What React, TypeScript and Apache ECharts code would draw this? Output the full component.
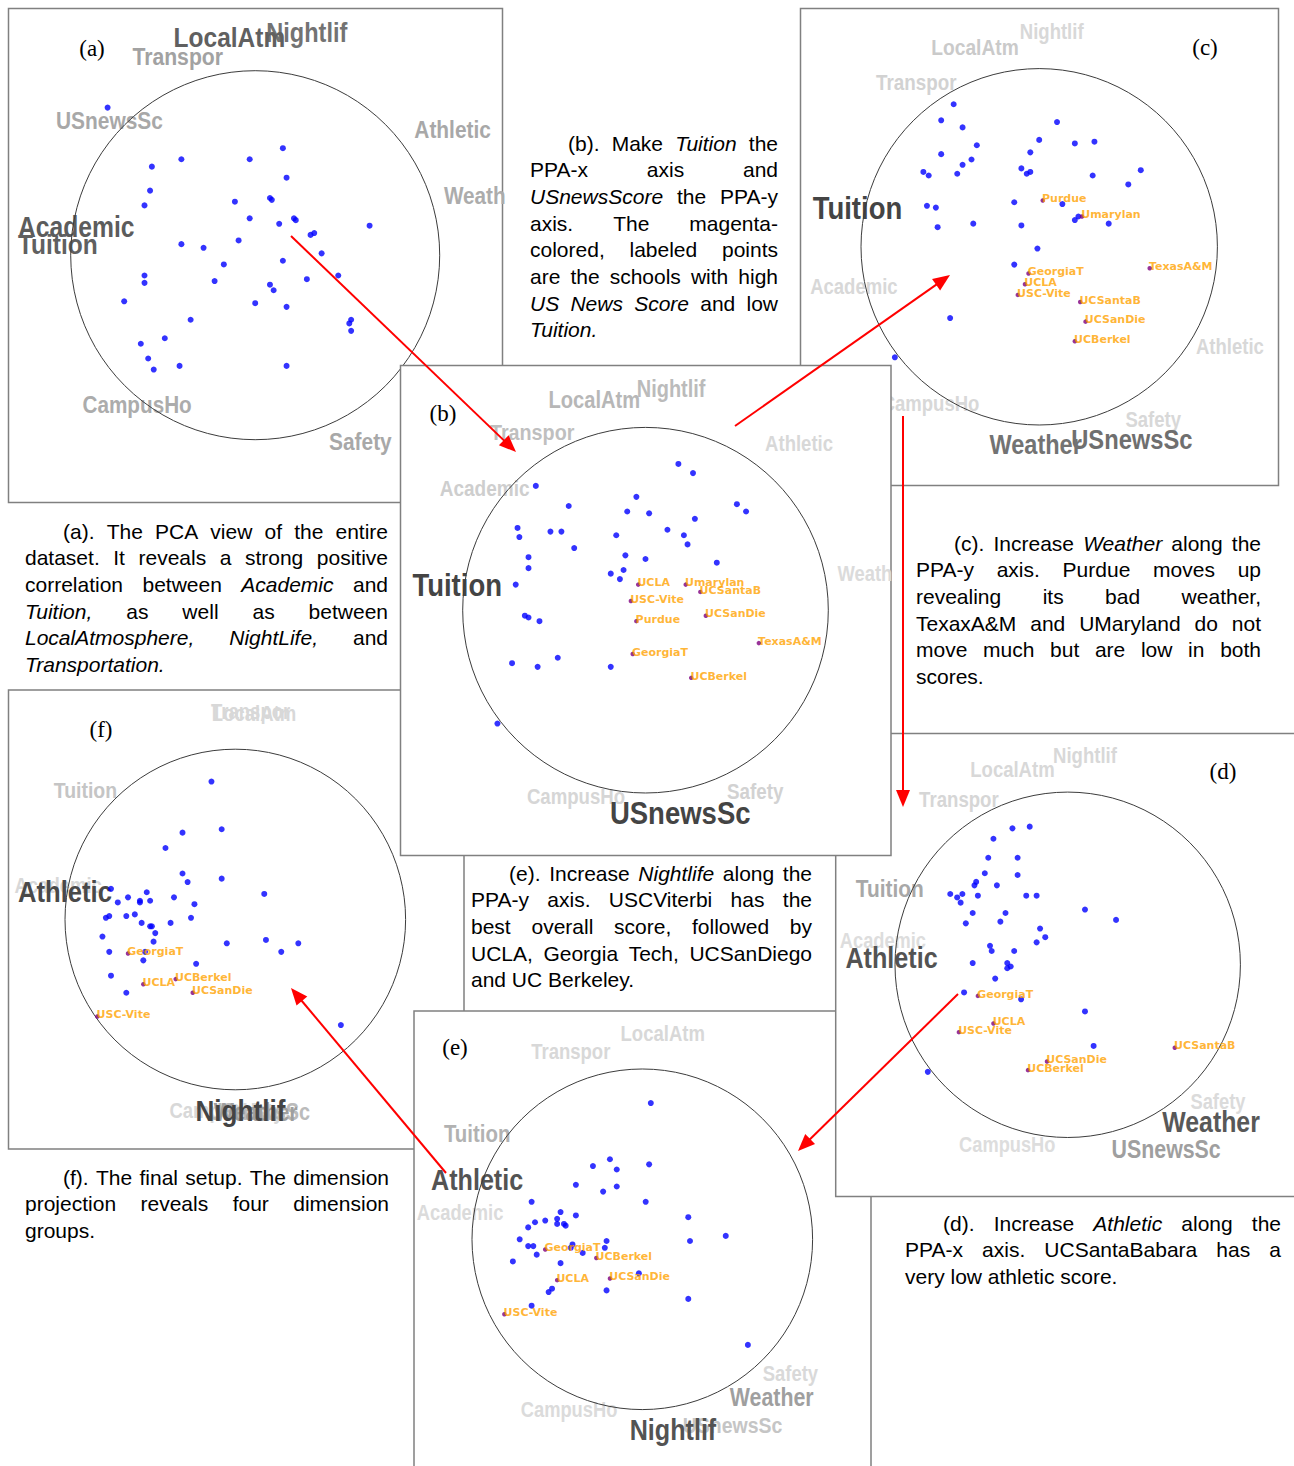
import { useEffect, useRef } from "react";
import * as echarts from "echarts";

// ---------- projection data, in units of the unit circle (radius = 100) ----------

// (a) PCA view of the whole data set
const aDots = [
  [-80, 80], [-40, 52], [-56, 48], [-57, 35], [-60, 27], [-3, 52], [15, 58], [17, 42], [-11, 29], [8, 31],
  [9, 30], [-3, 20], [13, 17], [21, 20], [22, 19], [30, 11], [32, 12], [62, 16], [-40, 6], [-28, 4],
  [-9, 8], [-17, -5], [15, -3], [36, 1], [45, -11], [28, -13], [-60, -11], [-60, -15], [-22, -14], [8, -16],
  [10, -19], [-71, -25], [0, -26], [17, -28], [-35, -35], [52, -35], [51, -37], [52, -41], [-49, -45], [-62, -48],
  [-58, -56], [-55, -62], [-41, -60], [17, -60],
];
const aSchools: [string, number, number][] = [];
// dimension name, x, y, contribution weight
const aDims: [string, number, number, number][] = [
  ["CampusHo", -64, -81, 0.28], ["Safety", 57, -101, 0.3], ["Transpor", -42, 108, 0.33],
  ["USnewsSc", -79, 73, 0.3], ["Athletic", 107, 68, 0.3], ["Weath", 119, 32, 0.28],
  ["Nightlif", 28, 121, 0.58], ["LocalAtm", -14, 118, 0.68],
  ["Academic", -97, 15, 0.7], ["Tuition", -107, 6, 0.68],
];

// (b) Tuition on PPA-x, USnewsScore on PPA-y
const bDots = [
  [18, 80], [26, 75], [-60, 68], [-5, 62], [-42, 57], [-10, 54], [2, 53], [50, 58], [55, 54], [27, 50],
  [-70, 45], [-69, 40], [-52, 43], [-46, 43], [-16, 41], [12, 44], [21, 41], [23, 36], [-39, 34], [-64, 29],
  [-64, 23], [-11, 30], [0, 28], [39, 26], [-19, 20], [-12, 22], [-14, 17], [-71, 14], [-66, -3], [-64, -4],
  [-58, -6], [-73, -29], [-59, -31], [-48, -26], [-19, -31], [-81, -62],
];
const bSchools: [string, number, number][] = [
  ["UCLA", -4, 14], ["Umarylan", 22, 14], ["UCSantaB", 30, 10], ["USC-Vite", -8, 5], ["Purdue", -5, -6],
  ["UCSanDie", 33, -3], ["TexasA&M", 62, -18], ["GeorgiaT", -7, -24], ["UCBerkel", 25, -37],
];
const bDims: [string, number, number, number][] = [
  ["LocalAtm", -28, 115, 0.22], ["Nightlif", 14, 121, 0.2], ["Transpor", -62, 97, 0.18],
  ["Athletic", 84, 91, 0.05], ["Academic", -88, 67, 0.1], ["Weath", 120, 20, 0.03],
  ["CampusHo", -38, -102, 0.06], ["Safety", 60, -99, 0.08],
  ["Tuition", -103, 14, 1], ["USnewsSc", 19, -111, 1],
];

// (c) Weather increased along PPA-y
const cDots = [
  [-48, 80], [-55, 71], [-43, 67], [10, 70], [-35, 57], [-55, 52], [0, 60], [20, 58], [31, 59], [-5, 53],
  [-38, 49], [-43, 46], [-46, 41], [-65, 42], [-62, 40], [-10, 44], [-7, 41], [-5, 42], [30, 40], [57, 43],
  [50, 35], [-14, 25], [13, 24], [-63, 23], [-58, 22], [-57, 11], [-37, 13], [-10, 12], [20, 15], [22, 17],
  [39, 13], [-1, -1], [-14, -10], [-50, -40], [-81, -62],
];
const cSchools: [string, number, number][] = [
  ["Purdue", 2, 26], ["Umarylan", 24, 17], ["GeorgiaT", -6, -15], ["UCLA", -8, -21], ["USC-Vite", -12, -27],
  ["TexasA&M", 62, -12], ["UCSantaB", 23, -31], ["UCSanDie", 26, -42], ["UCBerkel", 20, -53],
];
const cDims: [string, number, number, number][] = [
  ["Nightlif", 7, 121, 0.05], ["LocalAtm", -36, 112, 0.12], ["Transpor", -69, 92, 0.08],
  ["Academic", -104, -22, 0.05], ["Athletic", 107, -56, 0.05], ["CampusHo", -61, -88, 0.05],
  ["Safety", 64, -97, 0.05], ["USnewsSc", 52, -108, 0.6], ["Weather", -2, -111, 0.58],
  ["Tuition", -102, 22, 1],
];

// (d) Athletic increased along PPA-x
const dDots = [
  [-22, 80], [-32, 79], [-43, 73], [-46, 62], [-29, 62], [-48, 53], [-29, 52], [-53, 48], [-54, 46], [-41, 46],
  [-68, 41], [-61, 41], [-64, 39], [-62, 36], [-52, 40], [-24, 40], [-18, 40], [10, 32], [28, 26], [-55, 30],
  [-36, 30], [-59, 24], [-39, 25], [-16, 21], [-13, 16], [-18, 13], [-45, 11], [-44, 8], [-31, 8], [-55, 1],
  [-35, 1], [-33, -1], [-35, -2], [-42, -8], [-60, -16], [-27, -20], [10, -27], [15, -47], [-81, -62],
];
const dSchools: [string, number, number][] = [
  ["GeorgiaT", -52, -18], ["UCLA", -43, -34], ["USC-Vite", -63, -39], ["UCSanDie", -12, -56],
  ["UCBerkel", -23, -61], ["UCSantaB", 62, -48],
];
const dDims: [string, number, number, number][] = [
  ["Nightlif", 10, 121, 0.05], ["LocalAtm", -32, 113, 0.05], ["Transpor", -63, 96, 0.06],
  ["Tuition", -103, 44, 0.3], ["Academic", -107, 14, 0.02], ["Safety", 87, -79, 0.03],
  ["CampusHo", -35, -104, 0.02], ["USnewsSc", 57, -107, 0.35],
  ["Weather", 83, -91, 0.72], ["Athletic", -102, 4, 0.75],
];

// (e) Nightlife increased along PPA-y
const eDots = [
  [5, 80], [-19, 47], [-29, 43], [-15, 41], [4, 44], [-39, 32], [-23, 28], [-15, 31], [2, 22], [-65, 22],
  [-48, 16], [-39, 14], [-63, 10], [-57, 11], [-50, 12], [-50, 9], [-46, 9], [-45, 8], [-67, 7], [27, 13],
  [-72, 0], [-67, -4], [-64, -4], [-62, -9], [-41, -3], [-42, -5], [-21, -1], [-22, -5], [-35, -8], [28, -1],
  [49, 2], [-76, -13], [-48, -14], [-2, -20], [-53, -29], [-55, -31], [-21, -30], [27, -35], [-65, -39], [62, -62],
];
const eSchools: [string, number, number][] = [
  ["GeorgiaT", -57, -6], ["UCBerkel", -27, -11], ["UCLA", -50, -24], ["UCSanDie", -19, -23], ["USC-Vite", -81, -44],
];
const eDims: [string, number, number, number][] = [
  ["LocalAtm", 12, 121, 0.05], ["Transpor", -42, 110, 0.05], ["Tuition", -97, 62, 0.25],
  ["Academic", -107, 16, 0.03], ["Safety", 87, -79, 0.04], ["CampusHo", -43, -100, 0.03],
  ["USnewsSc", 53, -109, 0.15], ["Weather", 76, -93, 0.35],
  ["Athletic", -97, 35, 0.75], ["Nightlif", 18, -112, 0.75],
];

// (f) final setup
const fDots = [
  [-14, 81], [-8, 53], [-31, 51], [-41, 42], [-31, 27], [-28, 22], [-8, 24], [17, 15], [-73, 18], [-69, 10],
  [-63, 13], [-56, 11], [-56, 10], [-52, 16], [-50, 11], [-36, 13], [-24, 9], [-76, 1], [-74, 2], [-64, 2],
  [-59, 3], [-55, -2], [-50, -4], [-49, -4], [-47, -8], [-38, -2], [-26, 1], [-78, -10], [-48, -13], [-5, -14],
  [18, -12], [37, -14], [27, -19], [-74, -19], [-53, -19], [-54, -24], [-23, -26], [-73, -33], [-64, -43], [62, -62],
];
const fSchools: [string, number, number][] = [
  ["GeorgiaT", -63, -20], ["UCBerkel", -35, -35], ["UCLA", -54, -38], ["UCSanDie", -25, -43], ["USC-Vite", -81, -57],
];
const fDims: [string, number, number, number][] = [
  ["LocalAtm", 11, 121, 0.05], ["Transpor", 9, 122, 0.05], ["Tuition", -88, 76, 0.15],
  ["Academic", -104, 20, 0.05], ["CampusHo", -10, -112, 0.05], ["Safety", 12, -113, 0.05],
  ["USnewsSc", 14, -113, 0.2], ["Weather", 12, -113, 0.35],
  ["Athletic", -100, 16, 0.8], ["Nightlif", 3, -112, 0.85],
];

// ---------- captions ----------
const aCaption = [
  "(a). The PCA view of the entire",
  "dataset. It reveals a strong positive",
  "correlation between _Academic_ and",
  "_Tuition,_ as well as between",
  "_LocalAtmosphere,_ _NightLife,_ and",
  "_Transportation._",
];
const bCaption = [
  "(b). Make _Tuition_ the",
  "PPA-x axis and",
  "_USnewsScore_ the PPA-y",
  "axis. The magenta-",
  "colored, labeled points",
  "are the schools with high",
  "_US_ _News_ _Score_ and low",
  "_Tuition._",
];
const cCaption = [
  "(c). Increase _Weather_ along the",
  "PPA-y axis. Purdue moves up",
  "revealing its bad weather,",
  "TexaxA&M and UMaryland do not",
  "move much but are low in both",
  "scores.",
];
const dCaption = [
  "(d). Increase _Athletic_ along the",
  "PPA-x axis. UCSantaBabara has a",
  "very low athletic score.",
];
const eCaption = [
  "(e). Increase _Nightlife_ along the",
  "PPA-y axis. USCViterbi has the",
  "best overall score, followed by",
  "UCLA, Georgia Tech, UCSanDiego",
  "and UC Berkeley.",
];
const fCaption = [
  "(f). The final setup. The dimension",
  "projection reveals four dimension",
  "groups.",
];

// ---------- layout ----------
const UNIT = 100;
const SANS = '"Liberation Sans", Arial, sans-serif';
const SERIF = '"Liberation Serif", "Times New Roman", serif';

type Panel = {
  tag: string;
  dots: number[][];
  schools: [string, number, number][];
  dims: [string, number, number, number][];
  cx: number; cy: number; r: number;
  box: [number, number, number, number];
  tagPos: [number, number];
  layer: number;
};

const panels: Panel[] = [
  { tag: "(a)", dots: aDots, schools: aSchools, dims: aDims, cx: 255.2, cy: 255.2, r: 184.5, box: [8.5, 8.5, 494, 494], tagPos: [92, 48], layer: 0 },
  { tag: "(c)", dots: cDots, schools: cSchools, dims: cDims, cx: 1039.2, cy: 246.8, r: 178.2, box: [800.5, 8.5, 478, 477], tagPos: [1205, 47], layer: 1 },
  { tag: "(f)", dots: fDots, schools: fSchools, dims: fDims, cx: 235.3, cy: 919.5, r: 170.3, box: [8.5, 690, 455.5, 459], tagPos: [101, 729], layer: 2 },
  { tag: "(e)", dots: eDots, schools: eSchools, dims: eDims, cx: 642.3, cy: 1239.3, r: 170.3, box: [414, 1011, 457, 480], tagPos: [455, 1047], layer: 3 },
  { tag: "(d)", dots: dDots, schools: dSchools, dims: dDims, cx: 1067.7, cy: 964.8, r: 172.7, box: [835.7, 733.5, 480, 463], tagPos: [1223, 771], layer: 4 },
  { tag: "(b)", dots: bDots, schools: bSchools, dims: bDims, cx: 645.5, cy: 610.2, r: 182.8, box: [400.5, 365.5, 490.5, 490], tagPos: [443, 413], layer: 5 },
];

const captions: { lines: string[]; left: number; right: number; top: number }[] = [
  { lines: aCaption, left: 25, right: 388, top: 531 },
  { lines: bCaption, left: 530, right: 778, top: 143 },
  { lines: cCaption, left: 916, right: 1261, top: 543 },
  { lines: dCaption, left: 905, right: 1281, top: 1223 },
  { lines: eCaption, left: 471, right: 812, top: 873 },
  { lines: fCaption, left: 25, right: 389, top: 1177 },
];

// red arrows linking the steps: from (x1, y1) to tip (x2, y2)
const ARROWS = [
  [291, 236, 516, 452],
  [735, 426, 950, 275],
  [903, 416, 903, 807],
  [958, 994, 798, 1151],
  [446, 1173, 291, 988],
];

const CAPTION_SIZE = 21;
const LINE_H = 26.7;
const INDENT = 38;

function grayFor(w: number) {
  const g = Math.round(Math.max(68, 225 - 190 * w));
  return `rgb(${g},${g},${g})`;
}

function buildCaptionElements(): any[] {
  const ctx = document.createElement("canvas").getContext("2d")!;
  const measure = (t: string, italic: boolean) => {
    ctx.font = `${italic ? "italic " : ""}${CAPTION_SIZE}px ${SANS}`;
    return ctx.measureText(t).width;
  };
  const els: any[] = [];
  captions.forEach((cap) => {
    cap.lines.forEach((line, i) => {
      const words = line.split(" ").map((tok) => ({ text: tok.replace(/_/g, ""), italic: tok.startsWith("_") }));
      const widths = words.map((w) => measure(w.text, w.italic));
      const start = cap.left + (i === 0 ? INDENT : 0);
      const total = widths.reduce((s, v) => s + v, 0);
      const last = i === cap.lines.length - 1;
      const gap = !last && words.length > 1 ? (cap.right - start - total) / (words.length - 1) : measure(" ", false);
      let x = start;
      words.forEach((w, j) => {
        els.push({
          type: "text",
          x,
          y: cap.top + i * LINE_H,
          z: 200,
          style: {
            text: w.text,
            fontSize: CAPTION_SIZE,
            fontFamily: SANS,
            fontStyle: w.italic ? "italic" : "normal",
            fill: "#000",
            align: "left",
            verticalAlign: "middle",
          },
        });
        x += widths[j] + gap;
      });
    });
  });
  return els;
}

function buildArrowElements(): any[] {
  const HEAD = 17;
  const HALF = 7;
  const els: any[] = [];
  ARROWS.forEach(([x1, y1, x2, y2]) => {
    const dx = x2 - x1;
    const dy = y2 - y1;
    const len = Math.hypot(dx, dy);
    const ux = dx / len;
    const uy = dy / len;
    const bx = x2 - ux * HEAD;
    const by = y2 - uy * HEAD;
    els.push({
      type: "line",
      z: 300,
      shape: { x1, y1, x2: bx + ux * 2, y2: by + uy * 2 },
      style: { stroke: "#ff0000", lineWidth: 2 },
    });
    els.push({
      type: "polygon",
      z: 300,
      shape: { points: [[x2, y2], [bx - uy * HALF, by + ux * HALF], [bx + uy * HALF, by - ux * HALF]] },
      style: { fill: "#ff0000" },
    });
  });
  return els;
}

function buildOption() {
  const grid: any[] = [];
  const xAxis: any[] = [];
  const yAxis: any[] = [];
  const series: any[] = [];
  const graphic: any[] = [];

  panels.forEach((p, i) => {
    const base = 10 + p.layer * 10;
    grid.push({ left: p.cx - p.r, top: p.cy - p.r, width: 2 * p.r, height: 2 * p.r });
    xAxis.push({ type: "value", gridIndex: i, min: -UNIT, max: UNIT, show: false });
    yAxis.push({ type: "value", gridIndex: i, min: -UNIT, max: UNIT, show: false });

    // panel frame
    graphic.push({
      type: "rect",
      z: base,
      shape: { x: p.box[0], y: p.box[1], width: p.box[2], height: p.box[3] },
      style: { fill: "#fff", stroke: "#808080", lineWidth: 1.5 },
    });
    graphic.push({
      type: "text",
      z: base + 6,
      x: p.tagPos[0],
      y: p.tagPos[1],
      style: { text: p.tag, fontSize: 23, fontFamily: SERIF, fill: "#000", align: "center", verticalAlign: "middle" },
    });

    // dimension labels
    const dims = p.dims;
    series.push({
      type: "custom",
      xAxisIndex: i,
      yAxisIndex: i,
      z: base + 1,
      silent: true,
      data: dims.map((d) => ({ name: d[0], value: [d[1], d[2], d[3]] })),
      renderItem: (params: any, api: any) => {
        const pt = api.coord([api.value(0), api.value(1)]);
        const w = api.value(2) as number;
        return {
          type: "text",
          x: pt[0],
          y: pt[1],
          scaleX: 0.86,
          style: {
            text: dims[params.dataIndex][0],
            fontSize: 21 + 11 * w,
            fontWeight: "bold",
            fontFamily: SANS,
            fill: grayFor(w),
            align: "center",
            verticalAlign: "middle",
          },
        };
      },
    });

    // unit circle of the projection
    series.push({
      type: "custom",
      xAxisIndex: i,
      yAxisIndex: i,
      z: base + 2,
      silent: true,
      data: [[0, 0]],
      renderItem: (_params: any, api: any) => {
        const c = api.coord([api.value(0), api.value(1)]);
        const size = api.size([UNIT, UNIT]);
        return {
          type: "circle",
          shape: { cx: c[0], cy: c[1], r: size[0] },
          style: { fill: "none", stroke: "#3c3c3c", lineWidth: 1 },
        };
      },
    });

    // schools
    series.push({
      type: "scatter",
      xAxisIndex: i,
      yAxisIndex: i,
      z: base + 3,
      clip: false,
      silent: true,
      symbolSize: 6,
      itemStyle: { color: "#0000ff" },
      data: p.dots,
    });

    if (p.schools.length) {
      series.push({
        type: "scatter",
        xAxisIndex: i,
        yAxisIndex: i,
        z: base + 4,
        clip: false,
        silent: true,
        symbolSize: 4.5,
        itemStyle: { color: "#800080" },
        label: {
          show: true,
          formatter: "{b}",
          position: [1.5, 6],
          align: "left",
          verticalAlign: "bottom",
          color: "#ffa200",
          fontSize: 11,
          fontWeight: "bold",
          fontFamily: '"DejaVu Sans", sans-serif',
        },
        data: p.schools.map((s) => ({ name: s[0], value: [s[1], s[2]] })),
      });
    }
  });

  return {
    animation: false,
    backgroundColor: "#fff",
    grid,
    xAxis,
    yAxis,
    series,
    graphic: { elements: [...graphic, ...buildCaptionElements(), ...buildArrowElements()] },
  };
}

export default function App() {
  const ref = useRef<HTMLDivElement>(null);
  useEffect(() => {
    const chart = echarts.init(ref.current!, null, { renderer: "svg" });
    chart.setOption(buildOption() as any);
    return () => chart.dispose();
  }, []);
  return (
    <div
      ref={ref}
      style={{ position: "absolute", left: 0, top: 0, width: 1294, height: 1466, background: "#fff" }}
    />
  );
}
